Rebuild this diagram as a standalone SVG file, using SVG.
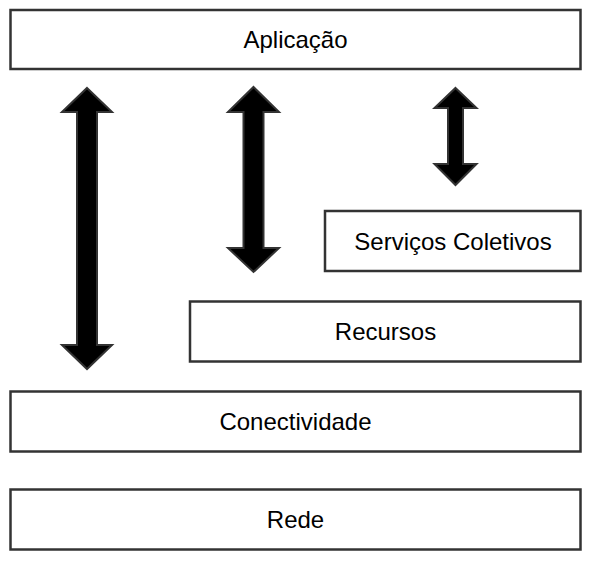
<svg xmlns="http://www.w3.org/2000/svg" width="591" height="561" viewBox="0 0 591 561">
<style>
.box{fill:#fff;stroke:#333;stroke-width:2.5}
.lbl{font-family:"Liberation Sans",Arial,sans-serif;font-size:24px;fill:#000;text-anchor:middle}
.arr{fill:#000;stroke:#333;stroke-width:2;stroke-linejoin:miter}
</style>
<rect width="591" height="561" fill="#fff"/>
<g id="aplicacao"><rect class="box" x="10.5" y="10" width="570" height="59"/><text class="lbl" x="295.5" y="48">Aplicação</text></g>
<g id="servicos"><rect class="box" x="325" y="211" width="255.5" height="60"/><text class="lbl" x="453" y="250">Serviços Coletivos</text></g>
<g id="recursos"><rect class="box" x="190" y="301.5" width="390.5" height="60"/><text class="lbl" x="385.5" y="340">Recursos</text></g>
<g id="conectividade"><rect class="box" x="10.5" y="391.5" width="570" height="60"/><text class="lbl" x="295.5" y="430">Conectividade</text></g>
<g id="rede"><rect class="box" x="10.5" y="489.5" width="570" height="60"/><text class="lbl" x="295.5" y="528">Rede</text></g>
<g id="connectors">
<path class="arr" d="M87,88 L112,112 L97,112 L97,345 L112,345 L87,369 L62,345 L77,345 L77,112 L62,112 Z"/>
<path class="arr" d="M253.5,87 L279,112 L263.5,112 L263.5,248 L279,248 L253.5,272 L228,248 L243.5,248 L243.5,112 L228,112 Z"/>
<path class="arr" d="M455.5,88 L476.5,108 L463,108 L463,164 L476.5,164 L455.5,185 L434.5,164 L448,164 L448,108 L434.5,108 Z"/>
</g>
</svg>
